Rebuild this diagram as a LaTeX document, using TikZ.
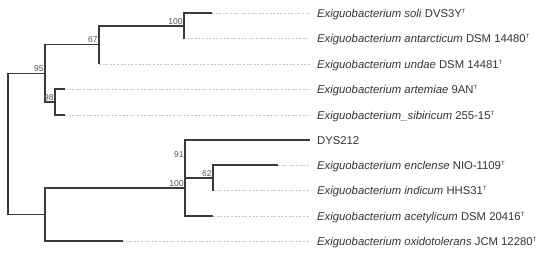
\documentclass[tikz,border=0pt]{standalone}
\usepackage{fontspec}
\setmainfont{Liberation Sans}
\newcommand\typeT{\raisebox{3.6pt}{\fontsize{6}{6}\selectfont T}}
\definecolor{branch}{HTML}{3A3A3A}
\definecolor{leadc}{HTML}{C8C8C8}
\definecolor{txtc}{HTML}{333333}
\definecolor{bootc}{HTML}{505050}
\begin{document}
\begin{tikzpicture}[x=1pt,y=-1pt,
  br/.style={draw=branch,line width=1.2pt},
  leader/.style={draw=leadc,line width=0.8pt,dash pattern=on 2pt off 1.6pt},
  taxon/.style={anchor=base west,inner sep=0pt,text=txtc,font=\fontsize{11.3}{12}\selectfont},
  boot/.style={anchor=south east,inner sep=0pt,xshift=-1.2pt,yshift=1.6pt,text=bootc,font=\fontsize{8.5}{9}\selectfont}]
\useasboundingbox (0,0) rectangle (550,255);
% internal nodes
\coordinate (r) at (8,144);
\coordinate (a95) at (45,73.5);
\coordinate (a67) at (99,44.5);
\coordinate (a100) at (184,26);
\coordinate (a98) at (55,102);
\coordinate (b) at (45,214.5);
\coordinate (c100) at (185,188);
\coordinate (c91) at (185,159);
\coordinate (c62) at (213,178);
% leaf tips
\coordinate (L1) at (212,13);
\coordinate (L2) at (184,38.5);
\coordinate (L3) at (99,64);
\coordinate (L4) at (65,89);
\coordinate (L5) at (65,115);
\coordinate (L6) at (310,140);
\coordinate (L7) at (278,165);
\coordinate (L8) at (213,190.5);
\coordinate (L9) at (213,216);
\coordinate (L10) at (123,241);
% taxon labels
\node[taxon] (t1) at (317,17) {\textit{Exiguobacterium soli} DVS3Y\typeT};
\node[taxon] (t2) at (317,42.5) {\textit{Exiguobacterium antarcticum} DSM 14480\typeT};
\node[taxon] (t3) at (317,68) {\textit{Exiguobacterium undae} DSM 14481\typeT};
\node[taxon] (t4) at (317,93) {\textit{Exiguobacterium artemiae} 9AN\typeT};
\node[taxon] (t5) at (317,119) {\textit{Exiguobacterium\_sibiricum} 255-15\typeT};
\node[taxon] (t6) at (317,144) {DYS212};
\node[taxon] (t7) at (317,169) {\textit{Exiguobacterium enclense} NIO-1109\typeT};
\node[taxon] (t8) at (317,194.5) {\textit{Exiguobacterium indicum} HHS31\typeT};
\node[taxon] (t9) at (317,220) {\textit{Exiguobacterium acetylicum} DSM 20416\typeT};
\node[taxon] (t10) at (317,245) {\textit{Exiguobacterium oxidotolerans} JCM 12280\typeT};
% leaders
\foreach \i in {1,2,3,4,5,7,8,9,10}{
  \draw[leader] (L\i) -- (L\i -| t\i.west) [shorten >=7pt];
}
% branches
\draw[br] (r) |- (a95);
\draw[br] (r) |- (b);
\draw[br] (a95) |- (a67);
\draw[br] (a95) |- (a98);
\draw[br] (a67) |- (a100);
\draw[br] (a67) |- (L3);
\draw[br] (a100) |- (L1);
\draw[br] (a100) |- (L2);
\draw[br] (a98) |- (L4);
\draw[br] (a98) |- (L5);
\draw[br] (b) |- (c100);
\draw[br] (b) |- (L10);
\draw[br] (c100) |- (c91);
\draw[br] (c100) |- (L9);
\draw[br] (c91) |- (L6);
\draw[br] (c91) |- (c62);
\draw[br] (c62) |- (L7);
\draw[br] (c62) |- (L8);
% bootstrap values
\node[boot] (s1) at (a100) {100};
\node[boot] (s2) at (a67) {67};
\node[boot] (s3) at (a95) {95};
\node[boot] (s4) at (a98) {98};
\node[boot] (s5) at (c91) {91};
\node[boot] (s6) at (c100) {100};
\node[boot] (s7) at (c62) {62};
\end{tikzpicture}
\end{document}
